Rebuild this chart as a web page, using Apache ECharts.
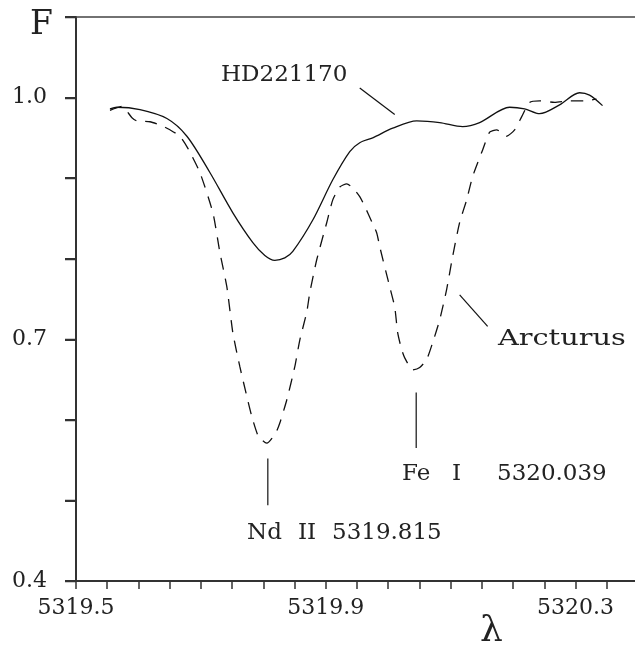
<!DOCTYPE html>
<html>
<head>
<meta charset="utf-8">
<script src="https://cdn.jsdelivr.net/npm/echarts@6/dist/echarts.min.js"></script>
<style>
  html, body { margin: 0; padding: 0; background: #fff; }
  #chart { width: 635px; height: 651px; }
</style>
</head>
<body>
<div id="chart"></div>
<script>
// HD221170 (solid)
var lambdaHD = [5319.5544, 5319.5656, 5319.6024, 5319.6456, 5319.6776, 5319.7144, 5319.7512, 5319.7832,
  5319.8024, 5319.8184, 5319.8344, 5319.8472, 5319.8792, 5319.9112, 5319.9384, 5319.9544, 5319.9752,
  5320.0072, 5320.0456, 5320.0824, 5320.1192, 5320.1464, 5320.1944, 5320.2184, 5320.2424, 5320.2744,
  5320.3064, 5320.3224, 5320.3432];
var fluxHD = [0.986, 0.988, 0.985, 0.974, 0.952, 0.907, 0.857, 0.820,
  0.804, 0.798, 0.801, 0.809, 0.848, 0.898, 0.933, 0.944, 0.950,
  0.962, 0.971, 0.969, 0.964, 0.969, 0.988, 0.986, 0.980, 0.991,
  1.006, 1.003, 0.990];

// Arcturus (dashed)
var lambdaArc = [5319.5544, 5319.5736, 5319.5896, 5319.5976, 5319.6184, 5319.6376, 5319.6504, 5319.6664,
  5319.6792, 5319.6984, 5319.7192, 5319.7304, 5319.7416, 5319.7512, 5319.7624, 5319.7736, 5319.7816,
  5319.7912, 5319.7992, 5319.8056, 5319.8200, 5319.8264, 5319.8376, 5319.8504, 5319.8584, 5319.8696,
  5319.8744, 5319.8856, 5319.9016, 5319.9112, 5319.9224, 5319.9336, 5319.9432, 5319.9544, 5319.9624,
  5319.9736, 5319.9816, 5319.9864, 5320.0024, 5320.0104, 5320.0152, 5320.0216, 5320.0264, 5320.0392,
  5320.0504, 5320.0616, 5320.0712, 5320.0824, 5320.0936, 5320.1032, 5320.1144, 5320.1256, 5320.1352,
  5320.1512, 5320.1624, 5320.1736, 5320.1896, 5320.2024, 5320.2136, 5320.2264, 5320.2424, 5320.2664,
  5320.2904, 5320.3144, 5320.3336];
var fluxArc = [0.984, 0.989, 0.975, 0.971, 0.970, 0.965, 0.960, 0.952,
  0.937, 0.907, 0.857, 0.808, 0.765, 0.708, 0.666, 0.629, 0.604,
  0.581, 0.574, 0.571, 0.584, 0.596, 0.625, 0.666, 0.699, 0.734,
  0.758, 0.799, 0.845, 0.873, 0.889, 0.893, 0.888, 0.877, 0.865,
  0.846, 0.832, 0.815, 0.765, 0.740, 0.708, 0.687, 0.677, 0.662,
  0.665, 0.675, 0.696, 0.724, 0.762, 0.803, 0.845, 0.873, 0.902,
  0.935, 0.957, 0.960, 0.952, 0.960, 0.976, 0.994, 0.996, 0.994,
  0.996, 0.996, 0.998];

// leader lines and line markers [lambda, F]
var leaderHD = [[5319.9544, 1.012], [5320.0104, 0.979]];
var leaderArc = [[5320.1144, 0.755], [5320.1592, 0.716]];
var markNd = [[5319.8072, 0.552], [5319.8072, 0.494]];
var markFe = [[5320.0448, 0.634], [5320.0448, 0.565]];

var xTickLabels = ['5319.5', '5319.9', '5320.3'];
var yTickLabels = ['0.4', '0.7', '1.0'];
var yTickValues = [0.4, 0.5, 0.6, 0.7, 0.8, 0.9, 1.0, 1.1];

function zip(xs, ys) {
  var out = [];
  for (var i = 0; i < xs.length; i++) out.push([xs[i], ys[i]]);
  return out;
}

var serif = 'DejaVu Serif';
var ink = '#222';

var myChart = echarts.init(document.getElementById('chart'));

function thinLine(data) {
  return {
    type: 'line', data: data, symbol: 'none', silent: true,
    lineStyle: { color: '#111', width: 1.2 }
  };
}

function txt(text, x, y, size, extra) {
  var el = {
    type: 'text', x: x, y: y, silent: true,
    style: { text: text, fontFamily: serif, fontSize: size, fill: ink, align: 'left', verticalAlign: 'middle' }
  };
  if (extra) for (var k in extra) el[k] = extra[k];
  return el;
}

function pick(list) {
  return function (v) {
    var s = v.toFixed(1);
    return list.indexOf(s) >= 0 && Math.abs(v - parseFloat(s)) < 1e-6 ? s : '';
  };
}

var option = {
  animation: false,
  grid: { left: 76, right: -3, top: 17, bottom: 70, outerBoundsMode: 'none' },
  xAxis: [{
    type: 'value', min: 5319.5, max: 5320.4, interval: 0.05,
    axisLine: { lineStyle: { color: '#333', width: 2 } },
    axisTick: { length: 8, lineStyle: { color: '#333', width: 1.5 } },
    splitLine: { show: false },
    axisLabel: {
      margin: 16, fontFamily: serif, fontSize: 22, color: ink,
      showMinLabel: true, showMaxLabel: false,
      formatter: pick(xTickLabels)
    }
  }, {
    type: 'value', position: 'top', min: 5319.5, max: 5320.4,
    axisLine: { show: true, lineStyle: { color: '#444', width: 1.5 } },
    axisTick: { show: false }, axisLabel: { show: false }, splitLine: { show: false }
  }],
  yAxis: {
    type: 'value', min: 0.4, max: 1.1, interval: 0.1,
    axisLine: { show: true, lineStyle: { color: '#333', width: 2 } },
    axisTick: { show: true, length: 11, lineStyle: { color: '#333', width: 2 } },
    splitLine: { show: false },
    axisLabel: {
      margin: 29, fontFamily: serif, fontSize: 22, color: ink,
      formatter: pick(yTickLabels)
    }
  },
  series: [
    {
      name: 'HD221170', type: 'line', data: zip(lambdaHD, fluxHD), symbol: 'none', smooth: 0.3,
      lineStyle: { color: '#111', width: 1.3 }
    },
    {
      name: 'Arcturus', type: 'line', data: zip(lambdaArc, fluxArc), symbol: 'none', smooth: 0.2,
      lineStyle: { color: '#111', width: 1.3, type: [12, 9] }
    },
    thinLine(leaderHD),
    thinLine(leaderArc),
    thinLine(markNd),
    thinLine(markFe)
  ],
  graphic: [
    txt('F', 30, 25, 33),
    txt('λ', 480, 632, 36),
    txt('HD221170', 221, 75, 23),
    txt('Arcturus', 498, 339, 23, { scaleX: 1.25, originX: 0, originY: 0 }),
    txt('Fe', 402, 474, 23),
    txt('I', 452, 474, 23),
    txt('5320.039', 497, 474, 23),
    txt('Nd', 247, 533, 23),
    txt('II', 298, 533, 23),
    txt('5319.815', 332, 533, 23)
  ]
};

myChart.setOption(option);

// y-axis tick marks placed through the axis scale
var axisX = myChart.convertToPixel({ xAxisIndex: 0 }, 5319.5);
yTickValues.forEach(function (v) {
  var py = Math.round(myChart.convertToPixel({ yAxisIndex: 0 }, v)) + 0.5;
  option.graphic.push({
    type: 'line', silent: true, z: 10,
    shape: { x1: axisX - 11, y1: py, x2: axisX, y2: py },
    style: { stroke: '#333', lineWidth: 1.5 }
  });
});
myChart.setOption(option);
</script>
</body>
</html>
